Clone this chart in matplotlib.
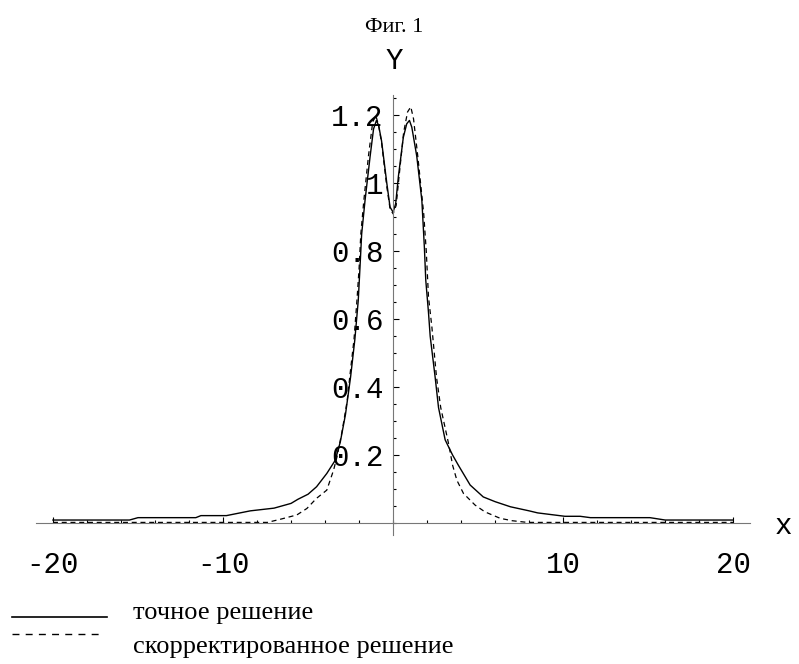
import matplotlib
matplotlib.use("Agg")
from matplotlib import pyplot as plt
from matplotlib.lines import Line2D
from matplotlib.ticker import MultipleLocator, FixedLocator

# точное решение
x_exact = [-20, -15.5, -15.0, -11.6, -11.3, -9.8, -8.4, -7.0, -6.0, -5.6, -5.0,
           -4.5, -3.9, -3.4, -3.1, -2.8, -2.5, -2.25, -2.05, -1.95, -1.85, -1.65,
           -1.35, -1.15, -0.98, -0.85, -0.68, -0.37, -0.18, 0.0, 0.15, 0.31, 0.6,
           0.8, 0.96, 1.1, 1.39, 1.69, 1.84, 1.92, 2.08, 2.18, 2.47, 2.67, 3.06,
           3.5, 3.84, 4.53, 5.3, 6.0, 6.9, 8.0, 8.5, 10.1, 11.0, 11.6, 15.1, 16.0, 20]
y_exact = [0.009, 0.009, 0.016, 0.016, 0.022, 0.022, 0.036, 0.044, 0.058, 0.07, 0.085,
           0.107, 0.146, 0.185, 0.24, 0.32, 0.43, 0.54, 0.655, 0.75, 0.85, 0.95,
           1.08, 1.16, 1.185, 1.17, 1.125, 1.0, 0.93, 0.915, 0.94, 1.02, 1.135,
           1.175, 1.185, 1.165, 1.08, 0.95, 0.81, 0.715, 0.62, 0.55, 0.43, 0.34, 0.245,
           0.2, 0.17, 0.112, 0.077, 0.063, 0.048, 0.036, 0.03, 0.02, 0.02, 0.016, 0.016, 0.009, 0.009]

# скорректированное решение
x_corr = [-20, -7.4, -6.65, -5.66, -5.07, -4.5, -3.9, -3.5, -3.3, -3.0, -2.7, -2.55,
          -2.3, -2.12, -2.0, -1.9, -1.72, -1.45, -1.2, -1.02, -0.85, -0.68, -0.37,
          -0.18, 0.0, 0.18, 0.35, 0.62, 0.85, 1.04, 1.2, 1.45, 1.8, 1.95, 2.08, 2.28,
          2.55, 2.8, 3.26, 3.5, 3.75, 4.14, 4.82, 5.4, 6.3, 7.0, 7.9, 20]
y_corr = [0.002, 0.002, 0.011, 0.024, 0.043, 0.073, 0.097, 0.156, 0.195, 0.27, 0.36, 0.43,
          0.54, 0.66, 0.75, 0.85, 0.95, 1.08, 1.18, 1.2, 1.17, 1.12, 0.99,
          0.925, 0.91, 0.935, 1.02, 1.15, 1.21, 1.225, 1.19, 1.08, 0.91, 0.8, 0.666, 0.577,
          0.43, 0.34, 0.234, 0.17, 0.126, 0.087, 0.053, 0.033, 0.014, 0.007, 0.002, 0.002]

x_labels = [-20, -10, 10, 20]
y_labels = [0.2, 0.4, 0.6, 0.8, 1, 1.2]

mono = "Liberation Mono"
serif = "Liberation Serif"

fig = plt.figure(figsize=(7.99, 6.64), dpi=100)
ax = fig.add_axes([0.045, 0.1943, 0.894, 0.6627])

ax.plot(x_exact, y_exact, color="black", lw=1.0)
ax.plot(x_corr, y_corr, color="black", lw=0.9, dashes=(4, 3))

ax.set_xlim(-21, 21)
ax.set_ylim(-0.035, 1.26)

for s in ["top", "right"]:
    ax.spines[s].set_visible(False)
ax.spines["left"].set_position(("data", 0))
ax.spines["bottom"].set_position(("data", 0))
ax.spines["left"].set_color("#777777")
ax.spines["bottom"].set_color("#777777")

ax.xaxis.set_major_locator(FixedLocator(x_labels))
ax.xaxis.set_minor_locator(MultipleLocator(2))
ax.yaxis.set_major_locator(FixedLocator(y_labels))
ax.yaxis.set_minor_locator(MultipleLocator(0.05))
ax.set_xticklabels([str(v) for v in x_labels], fontfamily=mono, fontsize=21)
ax.set_yticklabels(["0.2", "0.4", "0.6", "0.8", "1", "1.2"], fontfamily=mono, fontsize=21)

ax.tick_params(axis="x", which="major", direction="in", length=4, width=0.8,
               color="black", pad=20)
ax.tick_params(axis="x", which="minor", direction="in", length=2.5, width=0.8, color="black")
ax.tick_params(axis="y", which="major", direction="in", length=4, width=0.8,
               color="black", pad=7)
ax.tick_params(axis="y", which="minor", direction="in", length=2.5, width=0.8, color="black")

fig.text(0.493, 0.908, "Y", fontfamily=mono, fontsize=21, ha="center", va="center")
fig.text(0.981, 0.208, "x", fontfamily=mono, fontsize=21, ha="center", va="center")
fig.text(0.493, 0.958, "Фиг. 1", fontfamily=serif, fontsize=16, ha="center", va="center")

fig.add_artist(Line2D([12 / 799, 107 / 799], [1 - 617 / 664] * 2, color="black", lw=1.2))
fig.add_artist(Line2D([12 / 799, 102 / 799], [1 - 634 / 664] * 2, color="black", lw=1.0,
                      dashes=(5, 4.5)))
fig.text(133 / 799, 1 - 613 / 664, "точное решение", fontfamily=serif, fontsize=19,
         ha="left", va="center")
fig.text(133 / 799, 1 - 647 / 664, "скорректированное решение", fontfamily=serif,
         fontsize=19, ha="left", va="center")

fig.savefig("out.png", dpi=100)
